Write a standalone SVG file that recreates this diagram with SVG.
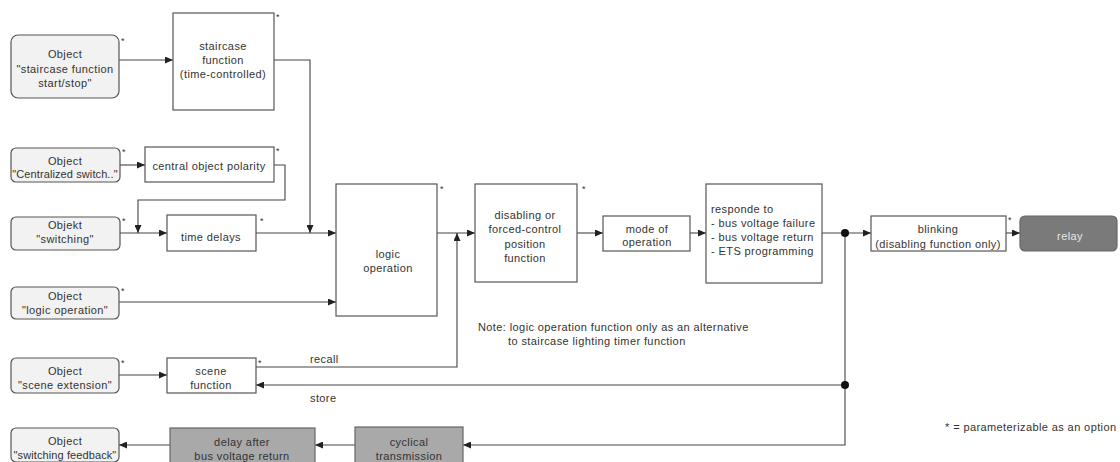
<svg xmlns="http://www.w3.org/2000/svg" width="1120" height="462" viewBox="0 0 1120 462">
<defs>
<marker id="arr" markerWidth="8" markerHeight="7" refX="8" refY="3.5" orient="auto" markerUnits="userSpaceOnUse">
<path d="M0,0 L8,3.5 L0,7 z" fill="#222"/>
</marker>
<style>
.obj{fill:#f2f2f2;stroke:#555;stroke-width:1.2}
.box{fill:#fff;stroke:#555;stroke-width:1.2}
.gray{fill:#a9a9a9;stroke:#666;stroke-width:1.2}
.dark{fill:#7a7a7a;stroke:#666;stroke-width:1.2}
text{font-family:"Liberation Sans",Arial,sans-serif;font-size:11px;letter-spacing:0.4px;fill:#333}
.c{text-anchor:middle}
.w{fill:#e6e6e6}
.st{font-size:9px;letter-spacing:0}
.tight{letter-spacing:0.1px}
.ln{fill:none;stroke:#444;stroke-width:1.1}
.a{marker-end:url(#arr)}
</style>
</defs>
<rect width="1120" height="462" fill="#fff"/>

<g id="connectors">
<path class="ln a" d="M119,60 H173"/>
<path class="ln a" d="M274,60 H310 V233"/>
<path class="ln a" d="M120,165 H145"/>
<path class="ln a" d="M274,165 H285 V200 H138 V233"/>
<path class="ln a" d="M120,233 H167"/>
<path class="ln a" d="M256,233 H336"/>
<path class="ln a" d="M119,302 H336"/>
<path class="ln a" d="M437,233 H475"/>
<path class="ln a" d="M256,367 H457 V233"/>
<path class="ln a" d="M577,233 H603"/>
<path class="ln a" d="M690,233 H706"/>
<path class="ln a" d="M822,233 H871"/>
<path class="ln a" d="M1006,233 H1020"/>
<path class="ln a" d="M845,233 V445 H463"/>
<path class="ln a" d="M845,385 H256"/>
<path class="ln a" d="M355,445 H315"/>
<path class="ln a" d="M170,445 H119"/>
<path class="ln a" d="M119,375 H167"/>
<circle cx="845" cy="233" r="4" fill="#111"/>
<circle cx="845" cy="385" r="4" fill="#111"/>
<text x="310" y="363">recall</text>
<text x="310" y="402">store</text>
</g>

<g id="obj-staircase">
<rect class="obj" x="11" y="35" width="108" height="63" rx="7"/>
<text class="c" x="65" y="58">Object</text>
<text class="c" x="65" y="73">"staircase function</text>
<text class="c" x="65" y="87">start/stop"</text>
<text class="st" x="121" y="44">*</text>
</g>
<g id="staircase">
<rect class="box" x="173" y="13" width="101" height="97"/>
<text class="c" x="223" y="50">staircase</text>
<text class="c" x="223" y="64">function</text>
<text class="c" x="223" y="78">(time-controlled)</text>
<text class="st" x="276" y="20">*</text>
</g>
<g id="obj-central">
<rect class="obj" x="11" y="148" width="109" height="34" rx="5"/>
<text class="c" x="65" y="165">Object</text>
<text class="c tight" x="65" y="178">"Centralized switch.."</text>
<text class="st" x="122" y="155">*</text>
</g>
<g id="polarity">
<rect class="box" x="145" y="147" width="129" height="35"/>
<text class="c" x="209" y="170">central object polarity</text>
<text class="st" x="276" y="154">*</text>
</g>
<g id="obj-switching">
<rect class="obj" x="11" y="217" width="109" height="33" rx="5"/>
<text class="c" x="65" y="229">Objekt</text>
<text class="c" x="65" y="243">"switching"</text>
<text class="st" x="122" y="224">*</text>
</g>
<g id="timedelays">
<rect class="box" x="167" y="215" width="89" height="36"/>
<text class="c" x="211" y="241">time delays</text>
<text class="st" x="260" y="224">*</text>
</g>
<g id="obj-logic">
<rect class="obj" x="11" y="287" width="108" height="32" rx="5"/>
<text class="c" x="65" y="300">Object</text>
<text class="c" x="65" y="314">"logic operation"</text>
<text class="st" x="121" y="294">*</text>
</g>
<g id="logic">
<rect class="box" x="336" y="184" width="101" height="132"/>
<text class="c" x="388" y="258">logic</text>
<text class="c" x="388" y="272">operation</text>
<text class="st" x="440" y="192">*</text>
</g>
<g id="obj-scene">
<rect class="obj" x="11" y="358" width="108" height="35" rx="5"/>
<text class="c" x="65" y="375">Object</text>
<text class="c" x="65" y="389">"scene extension"</text>
<text class="st" x="121" y="366">*</text>
</g>
<g id="scene">
<rect class="box" x="167" y="358" width="89" height="35"/>
<text class="c" x="211" y="375">scene</text>
<text class="c" x="211" y="389">function</text>
<text class="st" x="258" y="366">*</text>
</g>
<g id="obj-feedback">
<rect class="obj" x="11" y="428" width="108" height="34" rx="5"/>
<text class="c" x="65" y="445">Object</text>
<text class="c tight" x="65" y="459">"switching feedback"</text>
</g>
<g id="delay">
<rect class="gray" x="170" y="428" width="145" height="36"/>
<text class="c" x="242" y="446">delay after</text>
<text class="c" x="242" y="460">bus voltage return</text>
</g>
<g id="cyclical">
<rect class="gray" x="355" y="427" width="108" height="37"/>
<text class="c" x="409" y="446">cyclical</text>
<text class="c" x="409" y="460">transmission</text>
</g>
<g id="disabling">
<rect class="box" x="475" y="184" width="102" height="98"/>
<text class="c" x="525" y="219">disabling or</text>
<text class="c" x="525" y="233">forced-control</text>
<text class="c" x="525" y="248">position</text>
<text class="c" x="525" y="262">function</text>
<text class="st" x="582" y="192">*</text>
</g>
<g id="mode">
<rect class="box" x="603" y="216" width="87" height="35"/>
<text class="c" x="647" y="233">mode of</text>
<text class="c" x="647" y="246">operation</text>
</g>
<g id="responde">
<rect class="box" x="706" y="184" width="116" height="99"/>
<text x="711" y="213">responde to</text>
<text x="711" y="227">- bus voltage failure</text>
<text x="711" y="241">- bus voltage return</text>
<text x="711" y="255">- ETS programming</text>
</g>
<g id="blinking">
<rect class="box" x="871" y="216" width="135" height="35"/>
<text class="c" x="938" y="233">blinking</text>
<text class="c" x="938" y="248">(disabling function only)</text>
<text class="st" x="1008" y="223">*</text>
</g>
<g id="relay">
<rect class="dark" x="1020" y="216" width="97" height="35" rx="5"/>
<text class="c w" x="1070" y="240">relay</text>
</g>
<g id="notes">
<text x="478" y="331">Note: logic operation function only as an alternative</text>
<text x="508" y="345">to staircase lighting timer function</text>
<text x="945" y="431">* = parameterizable as an option</text>
</g>
</svg>
